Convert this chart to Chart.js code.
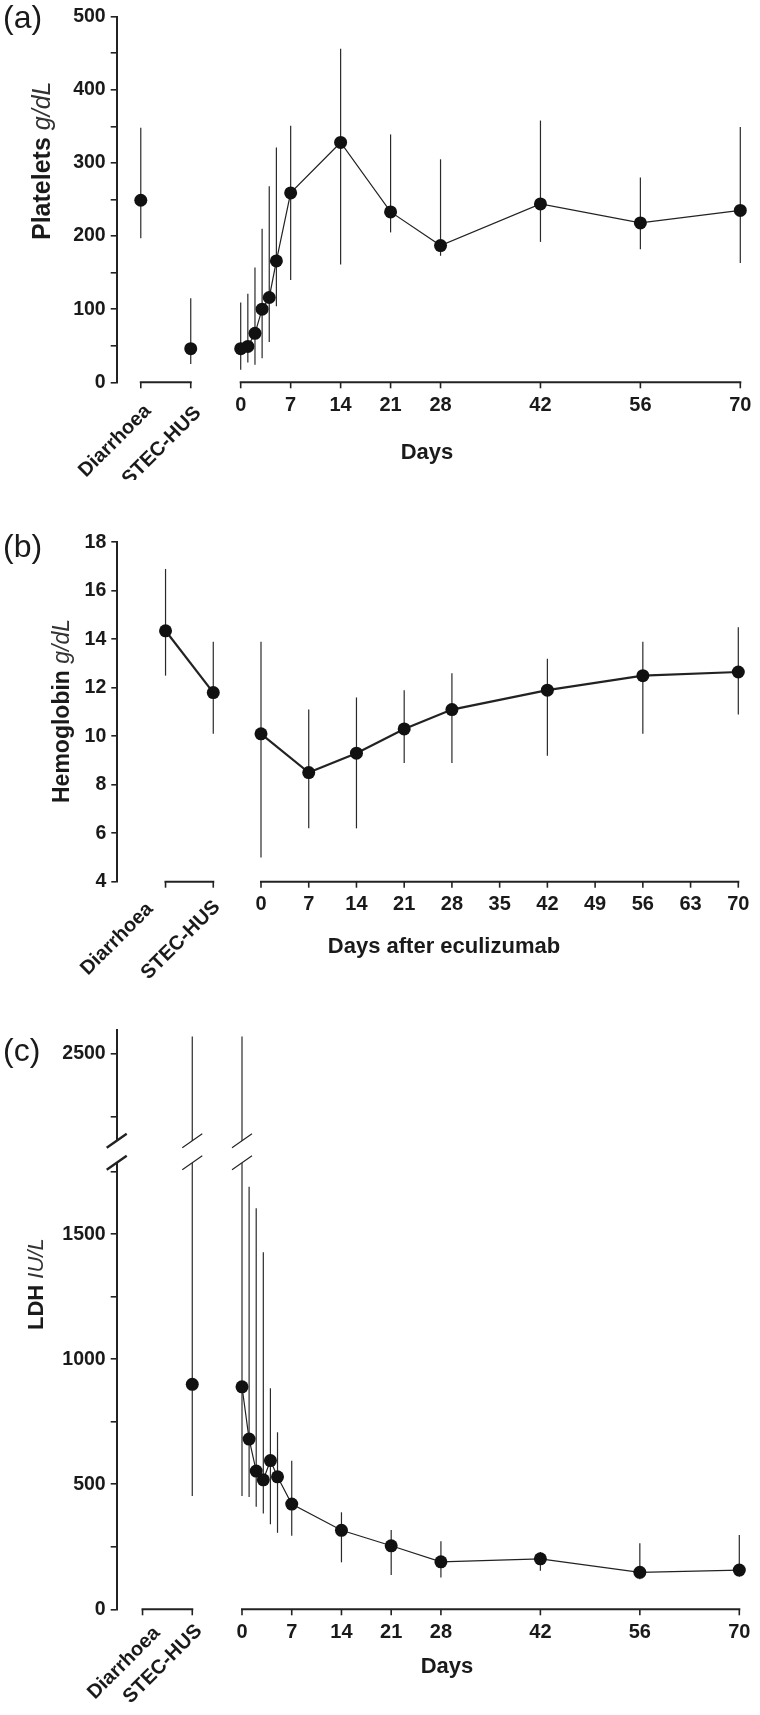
<!DOCTYPE html>
<html>
<head>
<meta charset="utf-8">
<script src="https://cdn.jsdelivr.net/npm/chart.js@4.4.0/dist/chart.umd.min.js"></script>
<style>
  html, body { margin: 0; padding: 0; background: #fff; }
  .panel { position: absolute; left: 0; width: 760px; }
</style>
</head>
<body>
<div class="panel" style="top:0;height:480px"><canvas id="cA" width="760" height="480"></canvas></div>
<div class="panel" style="top:480px;height:510px"><canvas id="cB" width="760" height="510"></canvas></div>
<div class="panel" style="top:990px;height:725px"><canvas id="cC" width="760" height="725"></canvas></div>
<script>
// --- data ---

const preLabels = ['Diarrhoea', 'STEC-HUS'];
const prePos = [-14, -7];            // placed one week apart before day 0

// (a) platelets
const plateletDays = [0, 1, 2, 3, 4, 5, 7, 14, 21, 28, 42, 56, 70];
const plateletMean = [46, 49, 67, 100, 116, 166, 259, 328, 233, 187, 244, 218, 235];
const plateletLow  = [17, 27, 24, 33, 55, 104, 140, 161, 205, 173, 192, 182, 163];
const plateletHigh = [109, 121, 157, 210, 268, 321, 351, 456, 339, 305, 358, 280, 349];
const plateletPreMean = [249, 46];
const plateletPreLow  = [197, 25];
const plateletPreHigh = [348, 115];
const plateletTicksX = [0, 7, 14, 21, 28, 42, 56, 70];

// (b) hemoglobin
const hbDays = [0, 7, 14, 21, 28, 42, 56, 70];
const hbMean = [10.1, 8.5, 9.3, 10.3, 11.1, 11.9, 12.5, 12.65];
const hbLow  = [5.0, 6.2, 6.2, 8.9, 8.9, 9.2, 10.1, 10.9];
const hbHigh = [13.9, 11.1, 11.6, 11.9, 12.6, 13.2, 13.9, 14.5];
const hbPreMean = [14.35, 11.8];
const hbPreLow  = [12.5, 10.1];
const hbPreHigh = [16.9, 13.9];
const hbTicksX = [0, 7, 14, 21, 28, 35, 42, 49, 56, 63, 70];

// (c) LDH
const ldhDays = [0, 1, 2, 3, 4, 5, 7, 14, 21, 28, 42, 56, 70];
const ldhMean = [890, 681, 553, 518, 595, 530, 421, 316, 254, 190, 202, 148, 157];
const ldhLow  = [453, 449, 410, 383, 340, 306, 294, 188, 137, 127, 154, 120, 130];
const ldhHigh = [2570, 1690, 1604, 1428, 884, 708, 594, 388, 317, 272, 229, 264, 297];
const ldhPrePos  = [-7];
const ldhPreMean = [900];
const ldhPreLow  = [453];
const ldhPreHigh = [2570];
const ldhTicksX = [0, 7, 14, 21, 28, 42, 56, 70];
const ldhTicksY = [0, 250, 500, 750, 1000, 1250, 1500, 1750, 2250, 2500];
const ldhLabelsY = [0, 500, 1000, 1500, 2500];
const ldhBreak = [1830, 2109];       // axis gap (values inside are hidden)

// --- look ---
const FONT = "'Liberation Sans', Arial, Helvetica, sans-serif";
const INK = '#1a1a1a';
const AXIS = '#222';

// y scale with a gap, used for the LDH panel
function squash(v){
  if(v <= ldhBreak[0]) return v;
  if(v >= ldhBreak[1]) return v - (ldhBreak[1] - ldhBreak[0]);
  return ldhBreak[0];
}
function unsquash(v){
  return v <= ldhBreak[0] ? v : v + (ldhBreak[1] - ldhBreak[0]);
}
const LinearBase = Chart.LinearScale || Chart.registry.getScale('linear');
class BrokenLinearScale extends LinearBase {
  getPixelForValue(value){
    const a = squash(this.min), b = squash(this.max);
    return this.getPixelForDecimal((squash(value) - a) / (b - a));
  }
  getValueForPixel(pixel){
    const a = squash(this.min), b = squash(this.max);
    return unsquash(a + this.getDecimalForPixel(pixel) * (b - a));
  }
}
BrokenLinearScale.id = 'brokenLinear';
BrokenLinearScale.defaults = LinearBase.defaults;
Chart.register(BrokenLinearScale);

function decorPlugin(cfg){
  return {
    id: 'decor_' + cfg.id,
    beforeDatasetsDraw(chart){
      const { ctx } = chart;
      const xs = chart.scales.x, ys = chart.scales.y;
      ctx.save();
      ctx.strokeStyle = '#2a2a2a';
      ctx.lineWidth = 1.2;
      chart.data.datasets.forEach(ds => {
        ds.data.forEach((p, i) => {
          const x = xs.getPixelForValue(p.x);
          ctx.beginPath();
          ctx.moveTo(x, ys.getPixelForValue(ds.errLow[i]));
          ctx.lineTo(x, ys.getPixelForValue(ds.errHigh[i]));
          ctx.stroke();
        });
      });
      ctx.restore();
    },
    afterDraw(chart){
      const { ctx, chartArea } = chart;
      const xs = chart.scales.x, ys = chart.scales.y;
      const yb = chartArea.bottom;
      const top = cfg.top;
      ctx.save();

      // axis breaks (LDH)
      if(cfg.breakXs){
        const yc = ys.getPixelForValue(ldhBreak[0]);
        cfg.breakXs.forEach(bx => {
          const x = bx === 'axis' ? chartArea.left : xs.getPixelForValue(bx);
          const hw = 10, rise = 7, sep = 11;
          ctx.fillStyle = '#fff';
          ctx.beginPath();
          ctx.moveTo(x - hw, yc + sep + rise);
          ctx.lineTo(x + hw, yc + sep - rise);
          ctx.lineTo(x + hw, yc - sep - rise);
          ctx.lineTo(x - hw, yc - sep + rise);
          ctx.closePath();
          ctx.fill();
          ctx.strokeStyle = AXIS;
          ctx.lineWidth = bx === 'axis' ? 2.4 : 1.1;
          ctx.beginPath();
          ctx.moveTo(x - hw, yc + sep + rise); ctx.lineTo(x + hw, yc + sep - rise);
          ctx.moveTo(x - hw, yc - sep + rise); ctx.lineTo(x + hw, yc - sep - rise);
          ctx.stroke();
        });
      }

      // broken x axis: bracket under the two phases, then the day axis
      ctx.strokeStyle = AXIS;
      ctx.lineWidth = 2;
      const segs = [[prePos[0], prePos[1]], [cfg.xTicks[0], cfg.xTicks[cfg.xTicks.length - 1]]];
      segs.forEach(([a, b]) => {
        ctx.beginPath();
        ctx.moveTo(xs.getPixelForValue(a) - 1, yb);
        ctx.lineTo(xs.getPixelForValue(b) + 1, yb);
        ctx.stroke();
      });
      ctx.lineWidth = 1.6;
      prePos.concat(cfg.xTicks).forEach(v => {
        const x = xs.getPixelForValue(v);
        ctx.beginPath();
        ctx.moveTo(x, yb);
        ctx.lineTo(x, yb + 6);
        ctx.stroke();
      });

      // day numbers
      ctx.fillStyle = INK;
      ctx.font = `bold 20px ${FONT}`;
      ctx.textAlign = 'center';
      ctx.textBaseline = 'top';
      cfg.xTicks.forEach(v => ctx.fillText(String(v), xs.getPixelForValue(v), yb + 13));

      // rotated phase labels
      ctx.font = `bold 20px ${FONT}`;
      ctx.textAlign = 'right';
      ctx.textBaseline = 'middle';
      preLabels.forEach((t, i) => {
        const [ax, ay] = cfg.catAt[i];
        ctx.save();
        ctx.translate(ax, ay - top);
        ctx.rotate(-Math.PI / 4);
        ctx.fillText(t, 0, 0);
        ctx.restore();
      });

      // x title
      ctx.font = `bold 22px ${FONT}`;
      ctx.textAlign = 'center';
      ctx.textBaseline = 'middle';
      ctx.fillText(cfg.xTitle, cfg.xTitleAt[0], cfg.xTitleAt[1] - top);

      // y title, bold name + italic unit
      ctx.save();
      ctx.translate(cfg.yTitleAt[0], cfg.yTitleAt[1] - top);
      ctx.rotate(-Math.PI / 2);
      ctx.textAlign = 'left';
      ctx.textBaseline = 'middle';
      ctx.font = `bold ${cfg.yTitleSize}px ${FONT}`;
      ctx.fillText(cfg.yTitle[0], 0, 0);
      const w = ctx.measureText(cfg.yTitle[0] + ' ').width;
      ctx.font = `italic ${cfg.yTitleSize}px ${FONT}`;
      ctx.fillStyle = '#333';
      ctx.fillText(cfg.yTitle[1], w, 0);
      ctx.restore();

      // panel letter
      ctx.font = `32px ${FONT}`;
      ctx.textAlign = 'left';
      ctx.textBaseline = 'alphabetic';
      ctx.fillStyle = INK;
      ctx.fillText(cfg.letter, cfg.letterAt[0], cfg.letterAt[1] - top);

      ctx.restore();
    }
  };
}

function makePanel(cfg){
  const perDay = (cfg.px70 - cfg.px0) / 70;
  const xMin = (cfg.left - cfg.px0) / perDay;
  const xMax = (cfg.right - cfg.px0) / perDay;

  const pts = (xs, ys) => xs.map((x, i) => ({ x, y: ys[i] }));
  const common = {
    pointRadius: 6.5,
    pointBackgroundColor: '#111',
    pointBorderColor: '#111',
    pointBorderWidth: 0,
    borderColor: AXIS,
    borderWidth: cfg.lineWidth,
    clip: false
  };

  const yScale = {
    type: cfg.yType || 'linear',
    min: cfg.yMin,
    max: cfg.yMax,
    afterFit: s => { s.width = cfg.left; },
    ticks: {
      color: INK,
      font: { family: FONT, size: 19.5, weight: 'bold' },
      padding: 5,
      autoSkip: false,
      stepSize: cfg.yStep,
      callback: cfg.yLabel
    },
    grid: { drawOnChartArea: false, drawTicks: true, tickLength: 6, color: AXIS, lineWidth: 1.6 },
    border: { display: true, color: AXIS, width: 2 }
  };
  if(cfg.yTicks) yScale.afterBuildTicks = s => { s.ticks = cfg.yTicks.map(v => ({ value: v })); };

  return new Chart(document.getElementById(cfg.id), {
    type: 'scatter',
    data: {
      datasets: [
        Object.assign({ data: pts(cfg.prePos, cfg.preMean), errLow: cfg.preLow, errHigh: cfg.preHigh, showLine: cfg.preLine }, common),
        Object.assign({ data: pts(cfg.days, cfg.mean), errLow: cfg.low, errHigh: cfg.high, showLine: true }, common)
      ]
    },
    options: {
      responsive: false,
      animation: false,
      events: [],
      layout: { padding: { top: cfg.yTopPx - cfg.top, bottom: cfg.top + cfg.height - cfg.yBotPx, left: 0, right: 760 - cfg.right } },
      plugins: { legend: { display: false }, tooltip: { enabled: false } },
      scales: {
        x: { type: 'linear', display: false, min: xMin, max: xMax },
        y: yScale
      }
    },
    plugins: [decorPlugin(cfg)]
  });
}

makePanel({
  id: 'cA', top: 0, height: 480,
  left: 116.7, right: 750, px0: 240.7, px70: 740.3,
  yMin: 0, yMax: 500, yTopPx: 16.7, yBotPx: 382.3, yStep: 50,
  yLabel: v => (v % 100 === 0 ? v : ''),
  days: plateletDays, mean: plateletMean, low: plateletLow, high: plateletHigh,
  prePos: prePos, preMean: plateletPreMean, preLow: plateletPreLow, preHigh: plateletPreHigh, preLine: false,
  lineWidth: 1.2, xTicks: plateletTicksX,
  catAt: [[148, 408], [198, 410]],
  xTitle: 'Days', xTitleAt: [427, 453],
  yTitle: ['Platelets', 'g/dL'], yTitleAt: [43, 240], yTitleSize: 25,
  letter: '(a)', letterAt: [3, 28]
});

makePanel({
  id: 'cB', top: 480, height: 510,
  left: 117.3, right: 750, px0: 261, px70: 738.3,
  yMin: 4, yMax: 18, yTopPx: 542.3, yBotPx: 881.7, yStep: 2,
  yLabel: v => v,
  days: hbDays, mean: hbMean, low: hbLow, high: hbHigh,
  prePos: prePos, preMean: hbPreMean, preLow: hbPreLow, preHigh: hbPreHigh, preLine: true,
  lineWidth: 2.2, xTicks: hbTicksX,
  catAt: [[150, 906], [217, 904]],
  xTitle: 'Days after eculizumab', xTitleAt: [444, 947],
  yTitle: ['Hemoglobin', 'g/dL'], yTitleAt: [63, 803], yTitleSize: 23,
  letter: '(b)', letterAt: [3, 557]
});

makePanel({
  id: 'cC', top: 990, height: 725,
  left: 116.7, right: 750, px0: 242, px70: 739.3,
  yType: 'brokenLinear',
  yMin: 0, yMax: 2596, yTopPx: 1030, yBotPx: 1609.3,
  yTicks: ldhTicksY,
  yLabel: v => (ldhLabelsY.includes(v) ? v : ''),
  days: ldhDays, mean: ldhMean, low: ldhLow, high: ldhHigh,
  prePos: ldhPrePos, preMean: ldhPreMean, preLow: ldhPreLow, preHigh: ldhPreHigh, preLine: false,
  lineWidth: 1.2, xTicks: ldhTicksX,
  breakXs: ['axis', -7, 0],
  catAt: [[157, 1630], [199, 1628]],
  xTitle: 'Days', xTitleAt: [447, 1667],
  yTitle: ['LDH', 'IU/L'], yTitleAt: [37, 1330], yTitleSize: 22,
  letter: '(c)', letterAt: [3, 1061]
});
</script>
</body>
</html>
